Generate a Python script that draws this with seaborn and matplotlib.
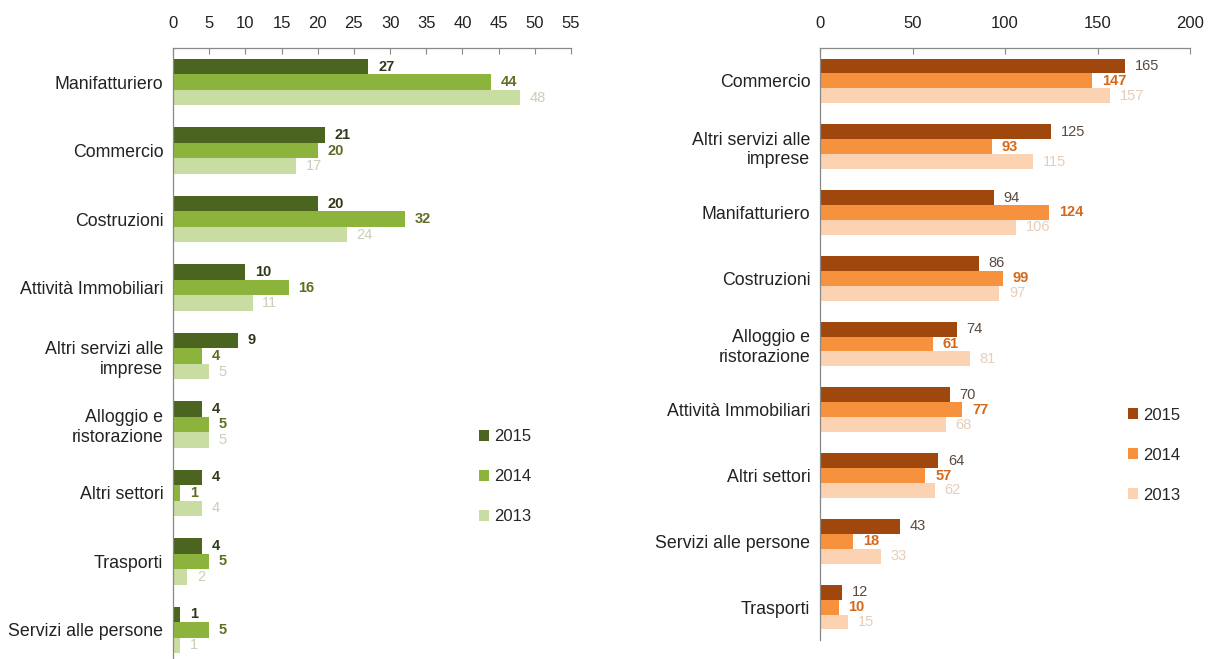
import matplotlib
matplotlib.use("Agg")
import matplotlib.pyplot as plt
import seaborn as sns
import pandas as pd
import numpy as np

years = ["2015", "2014", "2013"]

# Left panel (green)
left_cats = ["Manifatturiero", "Commercio", "Costruzioni", "Attività Immobiliari",
             "Altri servizi alle\nimprese", "Alloggio e\nristorazione", "Altri settori",
             "Trasporti", "Servizi alle persone"]
left_2015 = [27, 21, 20, 10, 9, 4, 4, 4, 1]
left_2014 = [44, 20, 32, 16, 4, 5, 1, 5, 5]
left_2013 = [48, 17, 24, 11, 5, 5, 4, 2, 1]

# Right panel (orange)
right_cats = ["Commercio", "Altri servizi alle\nimprese", "Manifatturiero", "Costruzioni",
              "Alloggio e\nristorazione", "Attività Immobiliari", "Altri settori",
              "Servizi alle persone", "Trasporti"]
right_2015 = [165, 125, 94, 86, 74, 70, 64, 43, 12]
right_2014 = [147, 93, 124, 99, 61, 77, 57, 18, 10]
right_2013 = [157, 115, 106, 97, 81, 68, 62, 33, 15]

green = ["#4b6420", "#8cb43c", "#c9dca2"]
orange = ["#a0470e", "#f6913e", "#fbd3b2"]
green_lbl = [("#2f3a1a", "bold"), ("#5f6e22", "bold"), ("#c9cfb8", "normal")]
orange_lbl = [("#5a4a40", "normal"), ("#d5681a", "bold"), ("#e6cdb8", "normal")]


def long_frame(cats, s15, s14, s13):
    rows = []
    for yr, vals in zip(years, [s15, s14, s13]):
        for c, v in zip(cats, vals):
            rows.append({"cat": c, "year": yr, "val": v})
    return pd.DataFrame(rows)


sns.set_style("white")
plt.rcParams["font.family"] = ["Liberation Sans", "DejaVu Sans"]

fig = plt.figure(figsize=(12.08, 6.59), dpi=100)
axL = fig.add_axes([173 / 1208, -5 / 659, 398 / 1208, 616 / 659])
axR = fig.add_axes([820 / 1208, 19 / 659, 370 / 1208, 592 / 659])


def draw(ax, cats, s15, s14, s13, palette, lblstyle, xmax, step, legend_anchor):
    df = long_frame(cats, s15, s14, s13)
    sns.barplot(data=df, y="cat", x="val", hue="year", hue_order=years,
                order=cats, palette=palette, orient="h", width=0.68,
                saturation=1, linewidth=0, ax=ax, legend=True)
    for cont, (col, wt) in zip(ax.containers, lblstyle):
        ax.bar_label(cont, padding=7, fontsize=10.5, color=col, fontweight=wt)
    ax.set_xlim(0, xmax)
    ax.set_ylim(len(cats) - 0.5, -0.5)
    ax.set_xticks(np.arange(0, xmax + 1, step))
    ax.xaxis.tick_top()
    ax.tick_params(axis="x", direction="in", length=4, color="#888888",
                   labelsize=12, pad=12, labelcolor="#222222")
    ax.tick_params(axis="y", length=0, labelsize=12.8, pad=7, labelcolor="#222222")
    ax.set_yticks(np.arange(-0.5, len(cats), 1), minor=True)
    ax.tick_params(axis="y", which="minor", direction="out", length=4, color="#888888")
    ax.set_xlabel("")
    ax.set_ylabel("")
    for s in ["right", "bottom"]:
        ax.spines[s].set_visible(False)
    for s in ["top", "left"]:
        ax.spines[s].set_color("#888888")
        ax.spines[s].set_linewidth(0.9)
    handles, labels = ax.get_legend_handles_labels()
    ax.legend(handles, labels, loc="center left", bbox_to_anchor=legend_anchor,
              frameon=False, fontsize=12, handlelength=0.6, handleheight=0.6,
              handletextpad=0.3, labelspacing=1.5, borderpad=0, borderaxespad=0)


draw(axL, left_cats, left_2015, left_2014, left_2013, green, green_lbl, 55, 5,
     (0.77, 0.304))
draw(axR, right_cats, right_2015, right_2014, right_2013, orange, orange_lbl, 200, 50,
     (0.832, 0.3125))

fig.savefig("out.png", dpi=100, facecolor="white")
